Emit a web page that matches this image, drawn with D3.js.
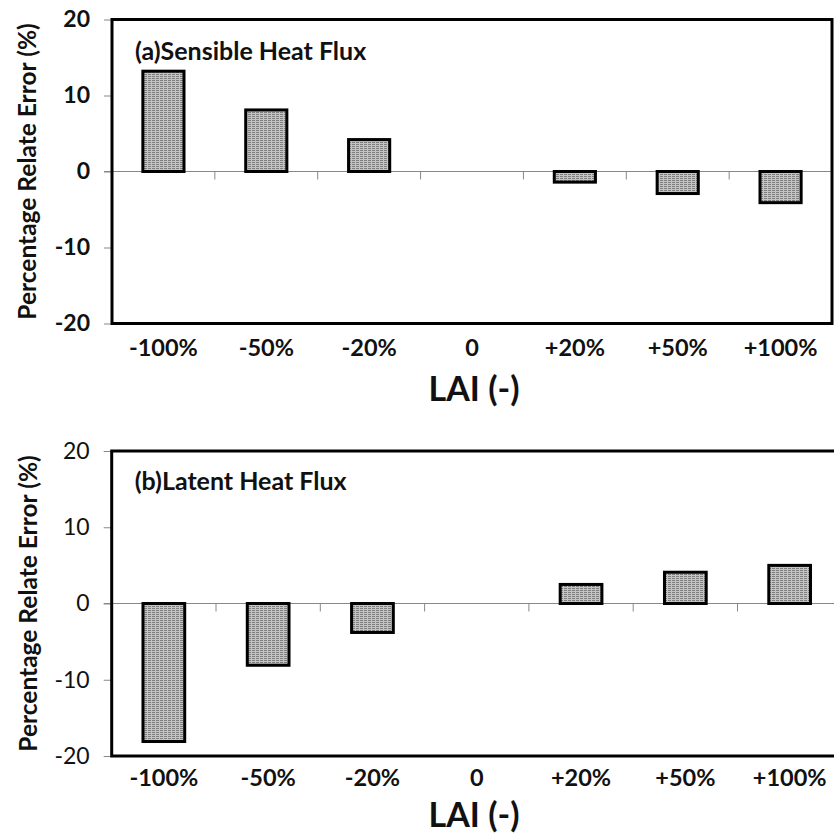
<!DOCTYPE html>
<html>
<head>
<meta charset="utf-8">
<script src="https://cdn.jsdelivr.net/npm/d3@7"></script>
<style>
html,body{margin:0;padding:0;background:#fff;}
svg{display:block;font-family:Lato,"Open Sans",sans-serif;}
</style>
</head>
<body>
<svg id="chart" width="834" height="835"></svg>
<script>
const categories = ["-100%","-50%","-20%","0","+20%","+50%","+100%"];
const sensibleValues = [13.2, 8.1, 4.2, 0, -1.4, -2.9, -4.1];
const latentValues = [-18.1, -8.1, -3.8, 0, 2.5, 4.1, 5.0];
const yTicks = [-20, -10, 0, 10, 20];
const panelTitles = ["(a)Sensible Heat Flux", "(b)Latent Heat Flux"];
const yTitle = "Percentage Relate Error (%)";
const xTitle = "LAI (-)";

const svg = d3.select("#chart");
const defs = svg.append("defs");
const pat = defs.append("pattern").attr("id","dots").attr("patternUnits","userSpaceOnUse")
  .attr("width",4).attr("height",2);
pat.append("rect").attr("width",4).attr("height",2).attr("fill","#c4c4c4");
pat.append("rect").attr("x",0).attr("y",0).attr("width",3).attr("height",1).attr("fill","#7e7e7e");

const panels = [
  {values: sensibleValues, title: panelTitles[0], x0:112, x1:832, y0:19.5, y1:323.5, boldTicks:true,
   titleY:60, tickLabelY:356, xTitleY:401, yTitleX:36},
  {values: latentValues, title: panelTitles[1], x0:111.7, x1:841.8, y0:451, y1:756, boldTicks:false,
   titleY:490, tickLabelY:786, xTitleY:827, yTitleX:37}
];

panels.forEach(p => {
  const g = svg.append("g");
  const x = d3.scaleBand().domain(categories).range([p.x0, p.x1]).paddingInner(0).paddingOuter(0);
  const y = d3.scaleLinear().domain([-20, 20]).range([p.y1, p.y0]);

  // y ticks
  const yAxis = d3.axisLeft(y).tickValues(yTicks).tickSize(8).tickPadding(14).tickFormat(d => String(d));
  const ya = g.append("g").attr("transform", `translate(${p.x0},0)`).call(yAxis);
  ya.select(".domain").remove();
  ya.selectAll(".tick line").attr("stroke","#888").attr("stroke-width",1);
  ya.selectAll(".tick text").attr("font-size",23).attr("font-weight", p.boldTicks ? "bold" : "normal")
    .attr("fill","#111").attr("font-family","Lato, sans-serif");

  // zero line
  g.append("line").attr("x1", p.x0 - 8).attr("x2", p.x1).attr("y1", y(0)).attr("y2", y(0))
    .attr("stroke","#888").attr("stroke-width",1.2);
  // category boundary ticks on zero line
  const bounds = categories.slice(1).map(c => x(c)).concat([p.x1]);
  g.selectAll(".ct").data(bounds).join("line")
    .attr("x1", d => d).attr("x2", d => d).attr("y1", y(0)).attr("y2", y(0) + 8)
    .attr("stroke","#888").attr("stroke-width",1);

  // bars
  const bw = x.bandwidth() * 0.40;
  g.selectAll(".bar").data(categories.map((c,i)=>({c, v:p.values[i]})).filter(d=>d.v!==0)).join("rect")
    .attr("x", d => x(d.c) + x.bandwidth()/2 - bw/2)
    .attr("width", bw)
    .attr("y", d => y(Math.max(0,d.v)))
    .attr("height", d => Math.abs(y(d.v) - y(0)))
    .attr("fill","url(#dots)").attr("stroke","#000").attr("stroke-width",3);

  // frame
  g.append("rect").attr("x", p.x0).attr("y", p.y0).attr("width", p.x1 - p.x0).attr("height", p.y1 - p.y0)
    .attr("fill","none").attr("stroke","#000").attr("stroke-width",3);

  // x tick labels
  g.selectAll(".xl").data(categories).join("text")
    .attr("x", d => x(d) + x.bandwidth()/2).attr("y", p.tickLabelY)
    .attr("text-anchor","middle").attr("font-size",23.5).attr("font-weight","bold").attr("fill","#111")
    .text(d => d);

  // panel title
  g.append("text").attr("x", p.x0 + 23).attr("y", p.titleY).attr("font-size",25).attr("font-weight","bold")
    .attr("fill","#111").text(p.title);

  // x title
  g.append("text").attr("x", 474).attr("y", p.xTitleY).attr("text-anchor","middle")
    .attr("font-size",34).attr("font-weight","bold").attr("fill","#111").text(xTitle);

  // y title
  g.append("text").attr("transform", `translate(${p.yTitleX},${(p.y0+p.y1)/2}) rotate(-90)`)
    .attr("text-anchor","middle").attr("font-size",24.5).attr("font-weight","bold").attr("fill","#111")
    .text(yTitle);
});
</script>
</body>
</html>
